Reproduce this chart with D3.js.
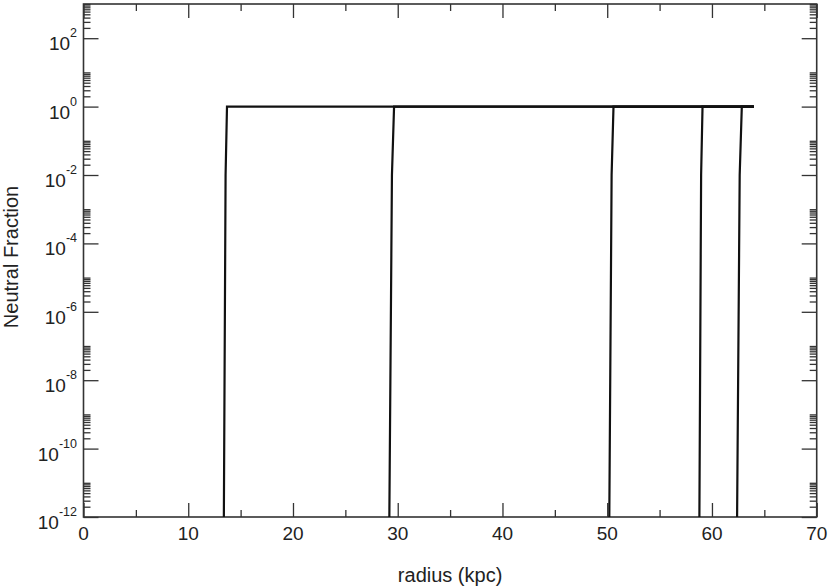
<!DOCTYPE html>
<html>
<head>
<meta charset="utf-8">
<script src="https://cdn.jsdelivr.net/npm/d3@7"></script>
<style>
  body { margin: 0; background: #fff; }
  text { font-family: "Liberation Sans", Arial, sans-serif; fill: #222; }
  .axis path { display: none; }
  .axis line { stroke: #333; stroke-width: 1.3; }
</style>
</head>
<body>
<script>
// radius (kpc) where each front rises, and where it reaches 1
var rBottom = [13.4, 29.2, 50.2, 58.8, 62.4],
    rTop = [13.7, 29.65, 50.6, 59.1, 62.85],
    rEnd = 64;
var fLow = 1e-12, fMid = 1e-2, fHigh = 1;

var xMajor = [0, 10, 20, 30, 40, 50, 60, 70],
    xMinor = [5, 15, 25, 35, 45, 55, 65],
    yMajorExp = [-12, -10, -8, -6, -4, -2, 0, 2];

var width = 830, height = 587;
var margin = {left: 83.5, right: 13.3, top: 4, bottom: 70};

var svg = d3.select("body").append("svg")
    .attr("width", width)
    .attr("height", height);

var x = d3.scaleLinear().domain([0, 70])
    .range([margin.left, width - margin.right]);
var y = d3.scaleLog().domain([1e-12, 1e3])
    .range([height - margin.bottom, margin.top]);

// minor y ticks: 2..10 x 10^even
var yMinor = [];
yMajorExp.forEach(function(e){
    for (var k = 2; k <= 10; k++) yMinor.push(k * Math.pow(10, e));
});
yMinor = yMinor.filter(function(v){ return v <= 1e3; });
var yMajor = yMajorExp.map(function(e){ return Math.pow(10, e); });

function ticks(axis, vals, size, tx, ty){
    svg.append("g").attr("class", "axis")
        .attr("transform", "translate(" + tx + "," + ty + ")")
        .call(axis.tickValues(vals).tickSize(size).tickFormat(""));
}

var x0 = x.range()[0], x1 = x.range()[1], y0 = y.range()[0], y1 = y.range()[1];

// bottom / top
ticks(d3.axisTop(x), xMajor, 14, 0, y0);
ticks(d3.axisTop(x), xMinor, 7, 0, y0);
ticks(d3.axisBottom(x), xMajor, 14, 0, y1);
ticks(d3.axisBottom(x), xMinor, 7, 0, y1);
// left / right
ticks(d3.axisRight(y), yMajor, 15, x0, 0);
ticks(d3.axisRight(y), yMinor, 7, x0, 0);
ticks(d3.axisLeft(y), yMajor, 15, x1, 0);
ticks(d3.axisLeft(y), yMinor, 7, x1, 0);

// frame
svg.append("rect")
    .attr("x", x0).attr("y", y1)
    .attr("width", x1 - x0).attr("height", y0 - y1)
    .attr("fill", "none").attr("stroke", "#333").attr("stroke-width", 1.6);

// x tick labels
svg.selectAll(".xlab").data(xMajor).enter().append("text")
    .attr("x", function(d){ return x(d); })
    .attr("y", y0 + 23)
    .attr("text-anchor", "middle")
    .style("font-size", "19px")
    .text(function(d){ return d; });

// y tick labels 10^n
var ylab = svg.selectAll(".ylab").data(yMajorExp).enter().append("text")
    .attr("x", 77)
    .attr("y", function(d){ return y(Math.pow(10, d)) + 12; })
    .attr("text-anchor", "end")
    .style("font-size", "19px");
ylab.append("tspan").text("10");
ylab.append("tspan")
    .attr("dy", -13)
    .style("font-size", "12.5px")
    .text(function(d){ return d; });

// axis titles
svg.append("text")
    .attr("x", (x0 + x1) / 2).attr("y", 582)
    .attr("text-anchor", "middle")
    .style("font-size", "20px")
    .text("radius (kpc)");
svg.append("text")
    .attr("transform", "translate(18,257) rotate(-90)")
    .attr("text-anchor", "middle")
    .style("font-size", "20px")
    .text("Neutral Fraction");

// curves
var line = d3.line()
    .x(function(d){ return x(d[0]); })
    .y(function(d){ return y(d[1]); });

rBottom.forEach(function(rb, i){
    var rt = rTop[i];
    var pts = [[rb, fLow], [rb + (rt - rb) * 0.55, fMid], [rt, fHigh], [rEnd, fHigh]];
    svg.append("path")
        .datum(pts)
        .attr("d", line)
        .attr("fill", "none")
        .attr("stroke", "#111")
        .attr("stroke-width", 2.2);
});
</script>
</body>
</html>
